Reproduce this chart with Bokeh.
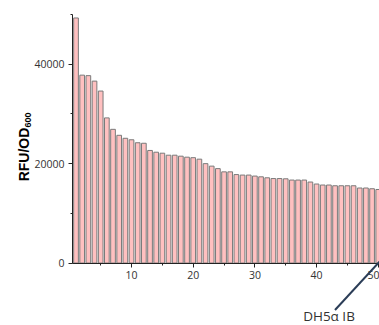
import math
from bokeh.plotting import figure
from bokeh.models import Range1d, FixedTicker, ColumnDataSource, Arrow, Label
from bokeh.embed import file_html
from bokeh.resources import INLINE

# ---- data ----
strain_index = list(range(1, 51))
rfu_per_od = [49300, 37800, 37700, 36600, 34600, 29200, 26900, 25700, 25100, 24800,
              24200, 24100, 22650, 22300, 22100, 21700, 21700, 21500, 21300, 21200,
              20900, 20000, 19500, 19000, 18350, 18350, 17800, 17700, 17700, 17500,
              17350, 17150, 17000, 17000, 16950, 16700, 16700, 16700, 16300, 15900,
              15700, 15700, 15550, 15550, 15550, 15550, 15100, 15100, 14950, 14800]
x_major_ticks = [10, 20, 30, 40, 50]
x_minor_ticks = [5, 15, 25, 35, 45]
y_major_ticks = [0, 20000, 40000]
y_minor_ticks = [10000, 30000, 50000]
annotation_text = "DH5\u03b1 IB"
y_label_main = "RFU/OD"
y_label_sub = "600"

# ---- layout constants (pixels) ----
W, H = 379, 325
AXIS_LEFT_PX = 72          # where the y axis sits
X_AT_AXIS = 0.43           # x value at the y axis
PX_PER_X = 6.168           # pixels per x unit
Y_TOP_VALUE = 50000
Y_TOP_PX = 14              # pixel row of y = 50000
PX_PER_Y = 1 / 201.15      # pixels per y unit

x_start = X_AT_AXIS - AXIS_LEFT_PX / PX_PER_X
x_end = x_start + W / PX_PER_X
y_end = Y_TOP_VALUE + Y_TOP_PX / PX_PER_Y
y_start = y_end - H / PX_PER_Y


def dx(px):
    return x_start + px / PX_PER_X


def dy(py):
    return y_end - py / PX_PER_Y


src = ColumnDataSource(dict(x=strain_index, top=rfu_per_od))

p = figure(width=W, height=H, output_backend="svg", toolbar_location=None,
           x_range=Range1d(x_start, x_end), y_range=Range1d(y_start, y_end),
           min_border=0, min_border_left=0, min_border_right=0,
           min_border_top=0, min_border_bottom=0)
p.outline_line_color = None
p.grid.visible = False
p.background_fill_color = "white"
p.border_fill_color = "white"

p.vbar(x="x", top="top", width=0.76, bottom=0, source=src,
       fill_color="#ffc0c0", line_color="#7a7a7a", line_width=1)

for ax in (p.xaxis[0], p.yaxis[0]):
    ax.axis_line_color = "#222222"
    ax.major_tick_line_color = "#222222"
    ax.minor_tick_line_color = "#222222"
    ax.major_tick_out = 4
    ax.major_tick_in = 0
    ax.minor_tick_out = 2
    ax.minor_tick_in = 0
    ax.major_label_text_font = "Open Sans"
    ax.major_label_text_font_size = "10.5px"
    ax.major_label_text_color = "#333333"
    ax.major_label_standoff = 4

p.xaxis.fixed_location = 0
p.xaxis.bounds = (X_AT_AXIS, x_end)
p.yaxis.fixed_location = X_AT_AXIS
p.yaxis.bounds = (0, Y_TOP_VALUE)

p.xaxis.ticker = FixedTicker(ticks=x_major_ticks, minor_ticks=x_minor_ticks)
p.yaxis.ticker = FixedTicker(ticks=y_major_ticks, minor_ticks=y_minor_ticks)

# y axis title with subscript
p.add_layout(Label(x=dx(23.5), y=dy(154), text=y_label_main, angle=math.pi / 2,
                   text_align="center", text_baseline="middle",
                   text_font="Liberation Sans", text_font_style="bold",
                   text_font_size="14px", text_color="#000000"))
p.add_layout(Label(x=dx(27), y=dy(119.5), text=y_label_sub, angle=math.pi / 2,
                   text_align="center", text_baseline="middle",
                   text_font="Liberation Sans", text_font_style="bold",
                   text_font_size="9px", text_color="#000000"))

# DH5a IB pointer
p.add_layout(Arrow(end=None, x_start=dx(381), y_start=dy(259),
                   x_end=dx(334.5), y_end=dy(309.5),
                   line_color="#2b3d57", line_width=2))
p.add_layout(Label(x=dx(328.5), y=dy(315.5), text=annotation_text, text_align="center",
                   text_baseline="middle", text_font="Open Sans",
                   text_font_size="13.5px", text_color="#333333"))

open("out.html", "w").write(file_html(p, INLINE))
